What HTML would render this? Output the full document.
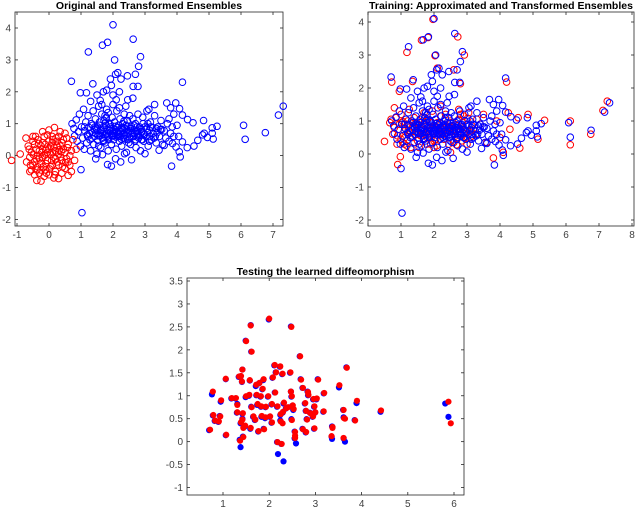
<!DOCTYPE html>
<html><head><meta charset="utf-8"><style>
body{margin:0;background:#fff}
svg{display:block;font-family:"Liberation Sans",sans-serif}
.t{font-size:10px;fill:#404040}
.ttl{font-size:10.5px;font-weight:bold;fill:#000}
</style></head><body>
<svg id="fig" width="640" height="509" viewBox="0 0 640 509" xmlns="http://www.w3.org/2000/svg">
<rect width="640" height="509" fill="#fff"/>
</svg>
<script>
// ---- Plot 1 / 2 data: transformed ensemble (blue) ----
const blueX = [2.0,1.67,1.83,1.23,2.63,2.86,2.05,2.8,2.15,2.08,2.45,2.7,1.92,2.25,0.7,1.37,4.17,0.98,1.17,2.63,2.78,1.95,1.5,1.7,1.8,2.0,2.2,2.46,1.3,1.6,2.62,3.68,3.96,4.08,3.8,3.3,3.12,4.17,4.33,4.5,4.83,5.25,5.1,4.85,4.8,4.95,5.1,5.13,4.65,4.53,4.32,4.17,4.07,4.1,3.97,6.08,6.13,6.76,7.17,7.32,3.83,1.0,1.03,1.46,1.83,1.95,2.08,2.24,2.58,1.67,2.36,3.0,3.44,3.6,3.86,
0.72,0.78,0.8,0.85,0.88,0.92,0.95,0.98,1.02,1.05,1.08,1.1,1.12,1.15,1.18,1.2,1.22,1.25,1.28,1.3,
1.32,1.35,1.38,1.4,1.42,1.45,1.47,1.5,1.52,1.55,1.57,1.6,1.62,1.65,1.67,1.7,1.72,1.75,1.77,1.8,1.82,1.85,1.87,1.9,1.52,1.58,1.63,1.68,1.73,1.78,1.83,1.88,1.45,1.55,1.65,1.75,1.85,
1.92,1.95,1.97,2.0,2.02,2.05,2.07,2.1,2.12,2.15,2.17,2.2,2.22,2.25,2.27,2.3,2.32,2.35,2.37,2.4,2.42,2.45,2.47,2.5,2.52,2.55,2.57,2.6,1.98,2.03,2.08,2.13,2.18,2.23,2.28,2.33,2.38,2.43,2.48,2.0,2.2,2.4,2.1,
2.62,2.65,2.68,2.7,2.72,2.75,2.78,2.8,2.83,2.86,2.9,2.93,2.96,3.0,3.03,3.06,3.1,3.13,3.17,3.2,3.25,3.3,3.35,3.4,3.45,3.5,3.55,3.6,3.65,3.7,3.75,3.8,3.85,3.9,2.65,2.75,2.85,2.95,3.05,3.15,3.35,3.75,3.9,4.0,4.05,
1.26,1.34,1.44,1.54,1.61,1.69,1.76,1.81,1.86,1.94,1.99,2.04,2.09,2.14,2.19,2.26,2.31,2.36,2.41,2.46,2.51,2.56,2.61,2.66,2.71,2.76,2.81,2.88,2.92,2.98,3.08,3.18,3.28,3.38,3.48,1.41,1.59,1.79,1.96,2.16,2.34,2.54,2.74,2.94,3.14,3.32,3.52,1.11,1.21,1.36,1.49,1.71,1.91,2.11,2.29,2.49,2.69,2.89,3.09,3.24];
const blueY = [4.1,3.46,3.55,3.25,3.65,3.1,3.0,2.8,2.6,2.55,2.5,2.55,2.4,2.4,2.33,2.25,2.3,1.97,1.97,2.17,2.17,2.2,1.9,2.0,2.05,1.9,2.0,1.75,1.7,1.73,1.8,1.65,1.65,1.47,1.5,1.6,1.45,1.27,1.13,1.03,1.1,0.92,0.87,0.7,0.65,0.57,0.7,0.52,0.48,0.3,0.25,0.43,0.12,-0.04,0.27,0.95,0.51,0.72,1.27,1.55,-0.33,-0.44,-1.79,-0.1,-0.28,-0.33,-0.1,-0.2,-0.13,0.03,0.06,0.06,0.17,0.32,0.38,
1.0,0.85,0.62,1.12,0.45,0.75,1.3,0.3,0.9,0.55,1.45,0.2,0.78,1.05,0.4,0.65,1.25,0.88,0.5,0.15,
1.0,0.72,1.4,0.35,0.6,1.15,0.85,0.05,0.48,1.55,0.95,0.7,0.25,1.3,0.55,0.88,1.1,0.4,0.65,1.45,0.8,0.15,1.0,0.58,0.9,1.05,0.82,0.68,0.75,0.95,0.62,0.78,0.7,0.3,1.6,1.25,1.35,
0.9,0.35,1.2,0.7,0.5,1.05,0.82,0.2,1.4,0.6,0.95,0.45,1.15,0.75,0.3,1.0,0.55,1.3,0.85,0.65,0.1,1.1,0.5,0.78,1.25,0.35,0.92,0.6,0.78,0.62,0.92,0.72,0.8,0.6,0.88,0.7,0.52,0.8,0.68,1.6,1.5,1.55,1.75,
1.15,0.8,0.45,1.0,0.25,0.68,1.3,0.55,0.9,0.15,0.75,1.2,0.45,0.9,0.6,1.4,0.3,0.8,1.05,0.5,0.7,1.25,0.4,0.9,0.6,1.1,0.35,0.78,0.55,1.0,0.45,0.7,0.9,0.6,0.6,0.9,0.65,0.7,0.85,0.6,0.85,1.15,1.3,0.95,0.6,
0.7,0.55,0.9,0.62,0.78,0.48,1.02,0.68,0.5,0.85,0.62,0.74,0.58,0.88,0.66,0.52,0.8,0.62,0.95,0.72,0.58,0.84,0.7,0.95,0.5,0.78,0.62,0.84,0.5,0.66,0.72,0.9,0.55,0.72,0.82,0.82,0.62,1.2,0.62,0.68,1.08,0.86,0.75,1.0,0.45,0.6,0.82,0.9,0.6,0.95,0.8,0.45,0.98,0.75,0.85,0.4,0.7,0.5,1.0,0.88];
// ---- Plot 1: original ensemble (red) ----
const origX = [-1.17,-0.9,-0.72,0.17,-0.38,0.7,0.75,0.85,-0.25,0.3,-0.6,-0.7,-0.65,0.6,0.5,-0.5,0.0,-0.2,0.35,0.8,
-0.55,-0.5,-0.45,-0.4,-0.35,-0.3,-0.3,-0.25,-0.2,-0.2,-0.15,-0.1,-0.1,-0.05,0.0,0.0,0.05,0.1,0.1,0.15,0.2,0.2,0.25,0.3,0.3,0.35,0.4,0.45,0.5,0.5,0.55,0.6,0.65,-0.6,-0.45,0.4,-0.35,-0.15,0.05,0.25,-0.05,0.15,-0.25,0.35,-0.1,0.05,-0.3,0.2,-0.2,0.1,-0.4,0.45,-0.05,0.3,-0.5,0.55,-0.55,0.65,0.7,-0.15,0.15,-0.35,0.0,0.1,-0.1,0.25,-0.25,0.4,-0.45,0.6,
-0.62,-0.38,-0.12,0.08,0.32,0.52,-0.48,-0.22,0.02,0.22,0.42,-0.32,-0.08,0.12,0.38,-0.58,0.58,-0.42,0.18,-0.18];
const origY = [-0.15,0.05,0.55,0.88,-0.78,-0.5,0.5,0.2,-0.8,-0.72,-0.5,-0.2,0.3,-0.62,0.7,0.6,0.8,0.75,0.75,-0.15,
0.1,-0.3,0.35,-0.1,0.5,-0.55,0.15,-0.25,0.4,-0.05,0.6,-0.45,0.2,-0.15,0.45,-0.6,0.05,-0.3,0.6,0.25,-0.1,-0.5,0.45,0.05,-0.3,0.3,-0.15,0.5,-0.4,0.1,-0.1,0.35,0.0,-0.05,-0.6,-0.55,-0.35,0.0,0.3,-0.2,0.1,-0.05,0.3,-0.05,-0.25,-0.35,-0.1,0.15,0.2,0.4,0.2,0.2,0.65,0.6,0.45,0.55,-0.45,-0.3,0.15,-0.65,-0.7,0.0,0.2,0.1,0.05,0.3,-0.45,0.4,-0.2,-0.2,
0.2,-0.45,0.35,-0.15,0.18,-0.22,0.02,0.1,-0.42,0.55,-0.35,0.38,-0.55,0.5,0.12,-0.3,0.25,0.6,-0.6,-0.35];
// ---- Plot 2: approximated ensemble (red) ----
const approxX = [1.97,1.62,1.82,1.18,2.72,2.92,2.03,0.72,1.35,4.2,0.95,2.8,7.12,7.25,6.13,6.13,6.75,3.8,0.9,0.98,4.55,4.85,5.35,5.15,4.6,4.25,3.5,0.5,4.1,2.1,2.2,2.6,2.75,
0.7,0.8,0.9,1.0,1.1,1.2,1.3,1.4,1.5,1.6,1.7,1.8,1.9,2.0,2.1,2.2,2.3,2.4,2.5,2.6,2.7,2.8,2.9,3.0,3.1,3.2,3.3,
0.75,0.85,0.95,1.05,1.15,1.25,1.35,1.45,1.55,1.65,1.75,1.85,1.95,2.05,2.15,2.25,2.35,2.45,2.55,2.65,2.75,2.85,2.95,3.05,3.15,
0.8,1.0,1.2,1.4,1.6,1.8,2.0,2.2,2.4,2.6,2.8,3.0,1.1,1.3,1.5,1.7,1.9,2.1,2.3,2.5,2.7,2.9,3.4,3.6,3.9,4.0,4.3,
1.02,1.12,1.22,1.32,1.42,1.52,1.62,1.72,1.82,1.92,2.02,2.12,2.22,2.32,2.42,2.52,2.62,2.72,2.82,2.92,3.02,3.12,0.88,1.18,1.48,1.78,2.08,2.38,2.68,2.98,1.06,1.36,1.66,1.96,2.26,2.56,2.86,3.16,3.26,0.66];
const approxY = [4.08,3.45,3.53,3.08,3.55,3.0,2.98,2.18,2.2,2.18,1.9,2.13,1.32,1.6,1.0,0.28,0.6,-0.12,-0.32,-0.08,1.1,1.2,1.02,0.45,0.18,1.25,1.2,0.38,0.05,2.6,1.45,2.55,1.35,
1.05,0.8,0.55,1.2,0.3,0.9,0.65,1.1,0.4,0.75,1.25,0.5,0.95,0.2,0.8,1.15,0.45,0.7,1.0,0.35,0.85,1.2,0.6,0.9,0.5,0.75,1.05,
0.6,1.1,0.9,0.35,0.75,1.35,0.5,0.95,0.2,1.0,0.6,0.85,1.3,0.45,0.9,0.65,1.2,0.3,0.8,0.55,1.05,0.4,0.7,1.25,0.85,
1.4,0.45,1.0,0.8,0.55,1.05,0.4,0.7,0.95,0.6,0.75,0.3,0.7,0.2,0.85,0.6,0.3,0.95,0.6,0.05,0.45,1.15,0.9,0.35,1.0,0.5,0.75,
0.95,0.5,0.72,1.0,0.58,0.88,0.62,0.98,0.7,0.52,0.85,0.62,0.92,0.55,0.78,0.95,0.68,0.5,0.82,0.62,1.08,0.7,0.3,0.25,0.68,0.3,0.25,0.82,0.28,0.48,0.98,0.85,1.12,0.8,0.62,0.72,0.95,0.55,0.6,0.95];
// ---- Plot 3: testing (blue = true, red = predicted) ----
const testX = [0.7,0.76,0.78,0.82,0.9,0.93,0.95,1.06,1.06,1.18,1.27,1.31,1.3,1.34,1.38,1.42,1.41,1.36,1.38,1.43,1.38,1.42,1.42,1.47,1.49,1.49,1.56,1.58,1.6,1.61,1.61,1.59,1.65,1.69,1.71,1.72,1.74,1.76,1.78,1.81,1.82,1.83,1.85,1.87,1.88,1.91,1.92,1.97,1.99,2.01,2.05,2.05,2.07,2.11,2.12,2.14,2.17,2.17,2.19,2.23,2.24,2.24,2.26,2.28,2.29,2.31,2.31,2.36,2.45,2.47,2.47,2.48,2.48,2.5,2.52,2.55,2.55,2.58,2.66,2.68,2.72,2.72,2.77,2.79,2.79,2.81,2.83,2.84,2.88,2.94,2.95,2.97,2.97,2.99,3.02,3.05,3.17,3.18,3.35,3.36,3.36,3.51,3.6,3.61,3.61,3.64,3.67,3.85,3.89,4.41,5.81,5.88];
const testY = [0.25,1.03,0.57,0.45,0.43,0.56,0.87,1.36,0.14,0.94,0.94,0.82,0.63,1.41,1.41,1.57,1.3,0.04,-0.12,0.11,0.4,0.5,0.61,0.33,2.2,0.97,1.0,1.33,2.54,1.96,0.76,0.28,0.54,0.47,1.21,1.01,0.8,0.22,1.27,0.98,0.76,0.54,1.14,1.34,0.28,0.51,0.75,0.98,2.66,0.54,0.81,0.41,1.39,1.66,1.07,1.51,0.76,-0.01,-0.27,1.63,0.58,0.46,-0.05,1.47,0.63,0.83,-0.43,0.72,1.5,2.51,1.09,0.98,0.49,0.78,0.69,0.22,0.07,-0.04,1.86,1.36,1.17,0.28,0.83,0.67,0.2,0.49,1.09,1.01,0.63,0.54,0.92,0.76,0.28,0.63,0.92,1.36,0.65,1.05,0.11,0.33,0.06,1.18,0.69,0.53,0.07,0.0,1.62,0.47,0.84,0.65,0.83,0.54];
const predX = [0.72,0.78,0.79,0.83,0.91,0.94,0.96,1.06,1.07,1.19,1.28,1.31,1.31,1.35,1.39,1.42,1.41,1.37,1.44,1.44,1.39,1.42,1.43,1.48,1.5,1.5,1.57,1.58,1.6,1.62,1.62,1.6,1.66,1.7,1.72,1.73,1.75,1.77,1.79,1.82,1.83,1.84,1.86,1.88,1.89,1.92,1.93,1.98,2.0,2.02,2.06,2.06,2.08,2.12,2.13,2.15,2.18,2.18,2.29,2.24,2.25,2.25,2.27,2.29,2.3,2.32,2.41,2.37,2.46,2.48,2.47,2.49,2.49,2.51,2.53,2.56,2.56,2.56,2.67,2.69,2.73,2.73,2.78,2.8,2.8,2.82,2.84,2.85,2.89,2.95,2.96,2.98,2.98,3.0,3.03,3.06,3.18,3.19,3.35,3.37,3.37,3.52,3.61,3.62,3.61,3.64,3.68,3.86,3.9,4.42,5.88,5.93];
const predY = [0.26,1.09,0.58,0.46,0.44,0.55,0.9,1.37,0.15,0.95,0.95,0.8,0.64,1.42,1.43,1.57,1.31,0.02,0.3,0.1,0.42,0.48,0.62,0.35,2.19,0.99,1.02,1.34,2.53,1.96,0.75,0.3,0.55,0.48,1.24,1.02,0.82,0.23,1.28,0.99,0.77,0.56,1.15,1.36,0.27,0.53,0.76,0.99,2.68,0.55,0.82,0.42,1.4,1.67,1.07,1.51,0.77,-0.01,0.4,1.64,0.6,0.44,-0.05,1.48,0.65,0.85,0.75,0.73,1.51,2.5,1.09,0.99,0.47,0.79,0.71,0.21,0.08,0.13,1.86,1.35,1.17,0.27,0.84,0.67,0.21,0.48,1.08,1.02,0.62,0.55,0.93,0.77,0.29,0.64,0.94,1.35,0.66,1.06,0.12,0.32,0.3,1.23,0.69,0.51,0.08,0.5,1.61,0.46,0.89,0.68,0.87,0.4];

const NS = 'http://www.w3.org/2000/svg';
const svg = document.getElementById('fig');
function mk(tag, attrs, parent) {
  const e = document.createElementNS(NS, tag);
  for (const k in attrs) e.setAttribute(k, attrs[k]);
  (parent || svg).appendChild(e);
  return e;
}
function axes(ax) {
  const g = mk('g', {});
  
  
  const box = mk('rect', {x: ax.l, y: ax.t, width: ax.r - ax.l, height: ax.b - ax.t, fill: 'none', stroke: '#262626', 'stroke-width': 0.8}, g);
  
  
  ax.xticks.forEach(v => {
    const px = ax.x(v);
    mk('line', {x1: px, x2: px, y1: ax.b, y2: ax.b - 3, stroke: '#262626', 'stroke-width': 0.8}, g);
    mk('line', {x1: px, x2: px, y1: ax.t, y2: ax.t + 3, stroke: '#262626', 'stroke-width': 0.8}, g);
    const t = mk('text', {x: px, y: ax.b + 12, 'text-anchor': 'middle', class: 't'}, g);
    t.textContent = String(v);
    
    
  });
  ax.yticks.forEach(v => {
    const py = ax.y(v);
    mk('line', {x1: ax.l, x2: ax.l + 3, y1: py, y2: py, stroke: '#262626', 'stroke-width': 0.8}, g);
    mk('line', {x1: ax.r, x2: ax.r - 3, y1: py, y2: py, stroke: '#262626', 'stroke-width': 0.8}, g);
    const t = mk('text', {x: ax.l - 4, y: py + 3.5, 'text-anchor': 'end', class: 't'}, g);
    t.textContent = String(v);
    
    
  });
  const tt = mk('text', {x: (ax.l + ax.r) / 2, y: ax.t - 3, 'text-anchor': 'middle', class: 'ttl'}, g);
  tt.textContent = ax.title;
  
  
  return g;
}
function scatter(ax, xs, ys, color, filled, name) {
  const g = mk('g', {});
  
  
  const n = Math.min(xs.length, ys.length);
  for (let i = 0; i < n; i++) {
    const c = mk('circle', filled
      ? {cx: ax.x(xs[i]), cy: ax.y(ys[i]), r: 3.1, fill: color}
      : {cx: ax.x(xs[i]), cy: ax.y(ys[i]), r: 3.3, fill: 'none', stroke: color, 'stroke-width': 1});
    
    
  }
}
const ax1 = {name: 'original-ensembles-axes', title: 'Original and Transformed Ensembles', l: 15, r: 283, t: 12, b: 226,
  x: v => 17 + (v + 1) * 32, y: v => 28 + (4 - v) * 31.9,
  xticks: [-1,0,1,2,3,4,5,6,7], yticks: [-2,-1,0,1,2,3,4]};
const ax2 = {name: 'training-axes', title: 'Training: Approximated and Transformed Ensembles', l: 368, r: 634, t: 12, b: 226,
  x: v => 368 + v * 33, y: v => 22 + (4 - v) * 33,
  xticks: [0,1,2,3,4,5,6,7,8], yticks: [-2,-1,0,1,2,3,4]};
const ax3 = {name: 'testing-axes', title: 'Testing the learned diffeomorphism', l: 187, r: 464, t: 278, b: 495,
  x: v => 223 + (v - 1) * 46.2, y: v => 281 + (3.5 - v) * 45.9,
  xticks: [1,2,3,4,5,6], yticks: [-1,-0.5,0,0.5,1,1.5,2,2.5,3,3.5]};
[ax1, ax2, ax3].forEach(axes);
scatter(ax1, blueX, blueY, '#0000ff', false, 'transformed-ensemble-series');
scatter(ax1, origX, origY, '#ff0000', false, 'original-ensemble-series');
scatter(ax2, approxX, approxY, '#ff0000', false, 'approximated-ensemble-series');
scatter(ax2, blueX, blueY, '#0000ff', false, 'transformed-ensemble-series');
scatter(ax3, testX, testY, '#0000ff', true, 'true-test-series');
scatter(ax3, predX, predY, '#ff0000', true, 'predicted-test-series');
</script>
</body></html>
